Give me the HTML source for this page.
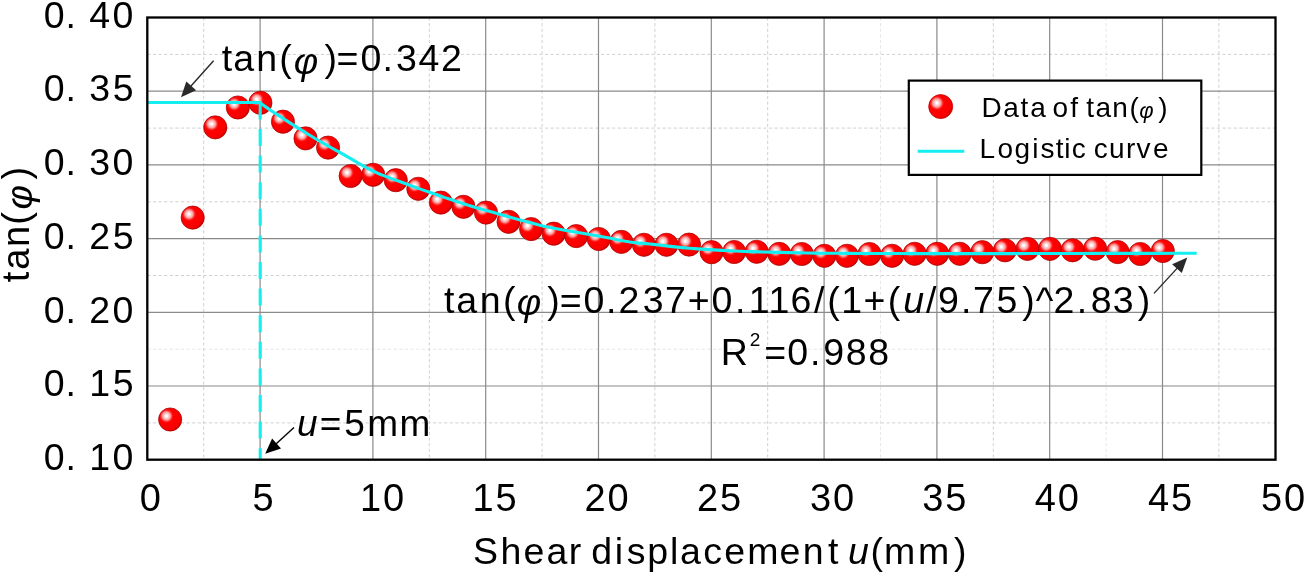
<!DOCTYPE html>
<html><head><meta charset="utf-8"><style>html,body{margin:0;padding:0;background:#fff;}svg{display:block;will-change:transform;}</style></head>
<body><svg width="1306" height="574" viewBox="0 0 1306 574">
<rect x="0" y="0" width="1306" height="574" fill="#fff"/>
<path d="M880.5,17.5V459.7M1106.1,17.5V459.7M147.3,349.2H1275.5" stroke="#e6e6e6" stroke-width="1" stroke-dasharray="3.2 2.4" fill="none"/>
<path d="M203.7,17.5V459.7M429.3,17.5V459.7M542.1,17.5V459.7M654.9,17.5V459.7M767.7,17.5V459.7M993.3,17.5V459.7M1218.9,17.5V459.7M147.3,54.4H1275.5M147.3,128.1H1275.5M147.3,201.8H1275.5M147.3,275.5H1275.5M147.3,422.9H1275.5" stroke="#d0d0d0" stroke-width="1" stroke-dasharray="3.2 2.4" fill="none"/>
<path d="M260.1,17.5V459.7M372.9,17.5V459.7M485.7,17.5V459.7M598.5,17.5V459.7M711.3,17.5V459.7M824.1,17.5V459.7M936.9,17.5V459.7M1049.7,17.5V459.7M1162.5,17.5V459.7M147.3,91.2H1275.5M147.3,164.9H1275.5M147.3,238.6H1275.5M147.3,312.3H1275.5M147.3,386.0H1275.5" stroke="#8a8a8a" stroke-width="1.2" fill="none"/>
<defs><radialGradient id="sp" cx="0.34" cy="0.35" r="0.68" fx="0.34" fy="0.35"><stop offset="0" stop-color="#ffffff"/><stop offset="0.06" stop-color="#ffffff"/><stop offset="0.12" stop-color="#ffdada"/><stop offset="0.25" stop-color="#ffa0a0"/><stop offset="0.3" stop-color="#ff6a6a"/><stop offset="0.37" stop-color="#ff2020"/><stop offset="0.45" stop-color="#ff0000"/><stop offset="0.88" stop-color="#f80000"/><stop offset="1" stop-color="#d80000"/></radialGradient></defs>
<circle cx="170.16" cy="419.5" r="11.6" fill="url(#sp)" stroke="#a80000" stroke-width="0.9" stroke-opacity="0.8"/>
<circle cx="192.72" cy="217.6" r="11.6" fill="url(#sp)" stroke="#a80000" stroke-width="0.9" stroke-opacity="0.8"/>
<circle cx="215.28" cy="127.4" r="11.6" fill="url(#sp)" stroke="#a80000" stroke-width="0.9" stroke-opacity="0.8"/>
<circle cx="237.84" cy="107.5" r="11.6" fill="url(#sp)" stroke="#a80000" stroke-width="0.9" stroke-opacity="0.8"/>
<circle cx="260.40" cy="102.8" r="11.6" fill="url(#sp)" stroke="#a80000" stroke-width="0.9" stroke-opacity="0.8"/>
<circle cx="282.96" cy="121.7" r="11.6" fill="url(#sp)" stroke="#a80000" stroke-width="0.9" stroke-opacity="0.8"/>
<circle cx="305.52" cy="138.4" r="11.6" fill="url(#sp)" stroke="#a80000" stroke-width="0.9" stroke-opacity="0.8"/>
<circle cx="328.08" cy="147.6" r="11.6" fill="url(#sp)" stroke="#a80000" stroke-width="0.9" stroke-opacity="0.8"/>
<circle cx="350.64" cy="176.0" r="11.6" fill="url(#sp)" stroke="#a80000" stroke-width="0.9" stroke-opacity="0.8"/>
<circle cx="373.20" cy="174.8" r="11.6" fill="url(#sp)" stroke="#a80000" stroke-width="0.9" stroke-opacity="0.8"/>
<circle cx="395.76" cy="180.2" r="11.6" fill="url(#sp)" stroke="#a80000" stroke-width="0.9" stroke-opacity="0.8"/>
<circle cx="418.32" cy="188.8" r="11.6" fill="url(#sp)" stroke="#a80000" stroke-width="0.9" stroke-opacity="0.8"/>
<circle cx="440.88" cy="202.6" r="11.6" fill="url(#sp)" stroke="#a80000" stroke-width="0.9" stroke-opacity="0.8"/>
<circle cx="463.44" cy="206.8" r="11.6" fill="url(#sp)" stroke="#a80000" stroke-width="0.9" stroke-opacity="0.8"/>
<circle cx="486.00" cy="212.6" r="11.6" fill="url(#sp)" stroke="#a80000" stroke-width="0.9" stroke-opacity="0.8"/>
<circle cx="508.56" cy="221.8" r="11.6" fill="url(#sp)" stroke="#a80000" stroke-width="0.9" stroke-opacity="0.8"/>
<circle cx="531.12" cy="229.1" r="11.6" fill="url(#sp)" stroke="#a80000" stroke-width="0.9" stroke-opacity="0.8"/>
<circle cx="553.68" cy="233.7" r="11.6" fill="url(#sp)" stroke="#a80000" stroke-width="0.9" stroke-opacity="0.8"/>
<circle cx="576.24" cy="236.1" r="11.6" fill="url(#sp)" stroke="#a80000" stroke-width="0.9" stroke-opacity="0.8"/>
<circle cx="598.80" cy="239.0" r="11.6" fill="url(#sp)" stroke="#a80000" stroke-width="0.9" stroke-opacity="0.8"/>
<circle cx="621.36" cy="241.9" r="11.6" fill="url(#sp)" stroke="#a80000" stroke-width="0.9" stroke-opacity="0.8"/>
<circle cx="643.92" cy="244.8" r="11.6" fill="url(#sp)" stroke="#a80000" stroke-width="0.9" stroke-opacity="0.8"/>
<circle cx="666.48" cy="244.8" r="11.6" fill="url(#sp)" stroke="#a80000" stroke-width="0.9" stroke-opacity="0.8"/>
<circle cx="689.04" cy="244.6" r="11.6" fill="url(#sp)" stroke="#a80000" stroke-width="0.9" stroke-opacity="0.8"/>
<circle cx="711.60" cy="252.2" r="11.6" fill="url(#sp)" stroke="#a80000" stroke-width="0.9" stroke-opacity="0.8"/>
<circle cx="734.16" cy="252.0" r="11.6" fill="url(#sp)" stroke="#a80000" stroke-width="0.9" stroke-opacity="0.8"/>
<circle cx="756.72" cy="251.8" r="11.6" fill="url(#sp)" stroke="#a80000" stroke-width="0.9" stroke-opacity="0.8"/>
<circle cx="779.28" cy="253.9" r="11.6" fill="url(#sp)" stroke="#a80000" stroke-width="0.9" stroke-opacity="0.8"/>
<circle cx="801.84" cy="254.0" r="11.6" fill="url(#sp)" stroke="#a80000" stroke-width="0.9" stroke-opacity="0.8"/>
<circle cx="824.40" cy="255.8" r="11.6" fill="url(#sp)" stroke="#a80000" stroke-width="0.9" stroke-opacity="0.8"/>
<circle cx="846.96" cy="255.8" r="11.6" fill="url(#sp)" stroke="#a80000" stroke-width="0.9" stroke-opacity="0.8"/>
<circle cx="869.52" cy="254.0" r="11.6" fill="url(#sp)" stroke="#a80000" stroke-width="0.9" stroke-opacity="0.8"/>
<circle cx="892.08" cy="255.8" r="11.6" fill="url(#sp)" stroke="#a80000" stroke-width="0.9" stroke-opacity="0.8"/>
<circle cx="914.64" cy="253.8" r="11.6" fill="url(#sp)" stroke="#a80000" stroke-width="0.9" stroke-opacity="0.8"/>
<circle cx="937.20" cy="253.8" r="11.6" fill="url(#sp)" stroke="#a80000" stroke-width="0.9" stroke-opacity="0.8"/>
<circle cx="959.76" cy="253.8" r="11.6" fill="url(#sp)" stroke="#a80000" stroke-width="0.9" stroke-opacity="0.8"/>
<circle cx="982.32" cy="252.2" r="11.6" fill="url(#sp)" stroke="#a80000" stroke-width="0.9" stroke-opacity="0.8"/>
<circle cx="1004.88" cy="250.3" r="11.6" fill="url(#sp)" stroke="#a80000" stroke-width="0.9" stroke-opacity="0.8"/>
<circle cx="1027.44" cy="248.9" r="11.6" fill="url(#sp)" stroke="#a80000" stroke-width="0.9" stroke-opacity="0.8"/>
<circle cx="1050.00" cy="248.9" r="11.6" fill="url(#sp)" stroke="#a80000" stroke-width="0.9" stroke-opacity="0.8"/>
<circle cx="1072.56" cy="250.3" r="11.6" fill="url(#sp)" stroke="#a80000" stroke-width="0.9" stroke-opacity="0.8"/>
<circle cx="1095.12" cy="248.7" r="11.6" fill="url(#sp)" stroke="#a80000" stroke-width="0.9" stroke-opacity="0.8"/>
<circle cx="1117.68" cy="252.1" r="11.6" fill="url(#sp)" stroke="#a80000" stroke-width="0.9" stroke-opacity="0.8"/>
<circle cx="1140.24" cy="254.0" r="11.6" fill="url(#sp)" stroke="#a80000" stroke-width="0.9" stroke-opacity="0.8"/>
<circle cx="1162.80" cy="251.0" r="11.6" fill="url(#sp)" stroke="#a80000" stroke-width="0.9" stroke-opacity="0.8"/>
<path d="M147.3,102.5 L260.2,102.5 L260.5,102.8 L260.8,103.1 L261.3,103.6 L262.0,104.2 L263.2,105.1 L265.0,106.4 L267.5,108.1 L270.5,110.2 L274.0,112.5 L277.9,115.1 L282.1,117.8 L286.4,120.6 L291.1,123.6 L296.3,126.9 L301.8,130.3 L307.3,133.7 L312.7,137.0 L317.7,140.0 L322.3,142.7 L326.7,145.2 L330.9,147.5 L335.1,149.8 L339.3,152.1 L343.8,154.6 L348.5,157.3 L353.3,160.1 L358.2,163.0 L363.2,165.9 L368.1,168.6 L372.9,171.0 L377.6,173.2 L382.3,175.1 L387.0,176.9 L391.6,178.6 L396.3,180.3 L401.0,182.0 L405.7,183.8 L410.4,185.5 L415.2,187.2 L419.9,188.9 L424.7,190.6 L429.6,192.3 L434.6,194.0 L439.8,195.8 L444.9,197.6 L450.1,199.3 L455.1,201.0 L460.0,202.6 L464.4,204.0 L468.4,205.3 L472.3,206.4 L476.4,207.7 L481.0,209.0 L486.3,210.5 L492.9,212.3 L500.5,214.5 L508.5,216.7 L516.5,218.9 L523.9,220.9 L530.0,222.5 L534.4,223.7 L537.4,224.6 L539.7,225.2 L542.1,225.8 L545.3,226.5 L550.0,227.5 L556.6,228.7 L564.7,230.2 L573.5,231.7 L582.5,233.2 L591.1,234.7 L598.5,236.0 L604.9,237.2 L610.7,238.3 L616.0,239.4 L621.0,240.4 L625.6,241.3 L630.0,242.0 L633.8,242.5 L636.8,242.9 L639.5,243.1 L642.3,243.3 L645.7,243.6 L650.0,244.0 L655.4,244.6 L661.4,245.3 L668.0,246.1 L675.0,246.9 L682.2,247.6 L689.7,248.3 L697.4,248.9 L705.3,249.4 L713.6,249.9 L722.1,250.4 L730.9,250.8 L740.0,251.2 L749.6,251.6 L759.7,251.9 L770.0,252.1 L780.4,252.4 L790.5,252.6 L800.0,252.8 L808.3,253.0 L815.6,253.1 L822.5,253.2 L830.0,253.3 L838.9,253.3 L850.0,253.4 L863.8,253.5 L879.6,253.5 L896.9,253.5 L914.8,253.6 L932.8,253.6 L950.0,253.6 L966.1,253.6 L981.6,253.6 L997.1,253.6 L1013.2,253.6 L1030.6,253.5 L1050.0,253.5 L1073.4,253.5 L1100.9,253.4 L1129.6,253.4 L1156.9,253.4 L1180.2,253.3 L1196.7,253.3" stroke="#14eef0" stroke-width="3.1" fill="none" stroke-linejoin="round"/>
<path d="M260.2,102.4V459" stroke="#14eef0" stroke-width="3.1" stroke-dasharray="17 9.6" fill="none"/>
<rect x="147.3" y="17.5" width="1128.2" height="442.2" fill="none" stroke="#000" stroke-width="2.3"/>
<text y="27.7" font-size="37.5" font-family="Liberation Sans, sans-serif" ><tspan x="43.74" y="27.70">0</tspan><tspan x="65.58" y="27.70">.</tspan><tspan x="89.30" y="27.70">4</tspan><tspan x="112.61" y="27.70">0</tspan></text>
<text y="101.4" font-size="37.5" font-family="Liberation Sans, sans-serif" ><tspan x="43.74" y="101.40">0</tspan><tspan x="65.58" y="101.40">.</tspan><tspan x="89.30" y="101.40">3</tspan><tspan x="112.72" y="101.40">5</tspan></text>
<text y="175.1" font-size="37.5" font-family="Liberation Sans, sans-serif" ><tspan x="43.74" y="175.10">0</tspan><tspan x="65.58" y="175.10">.</tspan><tspan x="89.30" y="175.10">3</tspan><tspan x="112.61" y="175.10">0</tspan></text>
<text y="248.8" font-size="37.5" font-family="Liberation Sans, sans-serif" ><tspan x="43.74" y="248.80">0</tspan><tspan x="65.58" y="248.80">.</tspan><tspan x="89.30" y="248.80">2</tspan><tspan x="112.72" y="248.80">5</tspan></text>
<text y="322.5" font-size="37.5" font-family="Liberation Sans, sans-serif" ><tspan x="43.74" y="322.50">0</tspan><tspan x="65.58" y="322.50">.</tspan><tspan x="89.30" y="322.50">2</tspan><tspan x="112.61" y="322.50">0</tspan></text>
<text y="396.2" font-size="37.5" font-family="Liberation Sans, sans-serif" ><tspan x="43.74" y="396.20">0</tspan><tspan x="65.58" y="396.20">.</tspan><tspan x="89.30" y="396.20">1</tspan><tspan x="112.72" y="396.20">5</tspan></text>
<text y="469.9" font-size="37.5" font-family="Liberation Sans, sans-serif" ><tspan x="43.74" y="469.90">0</tspan><tspan x="65.58" y="469.90">.</tspan><tspan x="89.30" y="469.90">1</tspan><tspan x="112.61" y="469.90">0</tspan></text>
<text y="510.8" font-size="38" font-family="Liberation Sans, sans-serif" ><tspan x="139.82" y="510.80">0</tspan></text>
<text y="510.8" font-size="38" font-family="Liberation Sans, sans-serif" ><tspan x="252.48" y="510.80">5</tspan></text>
<text y="510.8" font-size="38" font-family="Liberation Sans, sans-serif" ><tspan x="360.11" y="510.80">1</tspan><tspan x="383.11" y="510.80">0</tspan></text>
<text y="510.8" font-size="38" font-family="Liberation Sans, sans-serif" ><tspan x="472.51" y="510.80">1</tspan><tspan x="495.51" y="510.80">5</tspan></text>
<text y="510.8" font-size="38" font-family="Liberation Sans, sans-serif" ><tspan x="584.39" y="510.80">2</tspan><tspan x="607.39" y="510.80">0</tspan></text>
<text y="510.8" font-size="38" font-family="Liberation Sans, sans-serif" ><tspan x="696.89" y="510.80">2</tspan><tspan x="719.89" y="510.80">5</tspan></text>
<text y="510.8" font-size="38" font-family="Liberation Sans, sans-serif" ><tspan x="809.95" y="510.80">3</tspan><tspan x="832.95" y="510.80">0</tspan></text>
<text y="510.8" font-size="38" font-family="Liberation Sans, sans-serif" ><tspan x="922.25" y="510.80">3</tspan><tspan x="945.25" y="510.80">5</tspan></text>
<text y="510.8" font-size="38" font-family="Liberation Sans, sans-serif" ><tspan x="1034.63" y="510.80">4</tspan><tspan x="1057.63" y="510.80">0</tspan></text>
<text y="510.8" font-size="38" font-family="Liberation Sans, sans-serif" ><tspan x="1148.03" y="510.80">4</tspan><tspan x="1171.03" y="510.80">5</tspan></text>
<text y="510.8" font-size="38" font-family="Liberation Sans, sans-serif" ><tspan x="1260.98" y="510.80">5</tspan><tspan x="1283.98" y="510.80">0</tspan></text>
<text y="563.8" font-size="37.5" font-family="Liberation Sans, sans-serif" ><tspan x="472.95" y="563.80">S</tspan><tspan x="500.50" y="563.80">h</tspan><tspan x="523.61" y="563.80">e</tspan><tspan x="546.61" y="563.80">a</tspan><tspan x="568.71" y="563.80">r</tspan><tspan x="591.33" y="563.80">d</tspan><tspan x="614.79" y="563.80">i</tspan><tspan x="626.66" y="563.80">s</tspan><tspan x="647.18" y="563.80">p</tspan><tspan x="669.97" y="563.80">l</tspan><tspan x="679.91" y="563.80">a</tspan><tspan x="703.31" y="563.80">c</tspan><tspan x="724.21" y="563.80">e</tspan><tspan x="747.21" y="563.80">m</tspan><tspan x="779.51" y="563.80">e</tspan><tspan x="802.71" y="563.80">n</tspan><tspan x="828.03" y="563.80">t</tspan><tspan x="847.93" font-family="Liberation Sans" font-style="italic" y="563.80">u</tspan><tspan x="870.57" y="563.80">(</tspan><tspan x="884.11" y="563.80">m</tspan><tspan x="917.91" y="563.80">m</tspan><tspan x="954.08" y="563.80">)</tspan></text>
<g transform="translate(29.3,282.0) rotate(-90)"><text y="0.0" font-size="38" font-family="Liberation Sans, sans-serif" ><tspan x="-0.18" y="0.00">t</tspan><tspan x="12.19" y="0.00">a</tspan><tspan x="35.08" y="0.00">n</tspan><tspan x="57.34" y="0.00">(</tspan><tspan x="72.50" font-family="Liberation Sans" font-style="italic" font-size="37.5" y="2.50">φ</tspan><tspan x="102.58" y="0.00">)</tspan></text></g>
<text y="71.0" font-size="37.5" font-family="Liberation Sans, sans-serif" ><tspan x="221.83" y="71.00">t</tspan><tspan x="233.21" y="71.00">a</tspan><tspan x="256.21" y="71.00">n</tspan><tspan x="279.27" y="71.00">(</tspan><tspan x="293.70" font-family="Liberation Sans" font-style="italic" y="73.50">φ</tspan><tspan x="324.58" y="71.00">)</tspan><tspan x="336.57" y="71.00">=</tspan><tspan x="360.44" y="71.00">0</tspan><tspan x="382.58" y="71.00">.</tspan><tspan x="396.07" y="71.00">3</tspan><tspan x="418.44" y="71.00">4</tspan><tspan x="441.01" y="71.00">2</tspan></text>
<text y="436.0" font-size="37" font-family="Liberation Sans, sans-serif" ><tspan x="297.05" font-family="Liberation Sans" font-style="italic" y="436.00">u</tspan><tspan x="319.79" y="436.00">=</tspan><tspan x="344.22" y="436.00">5</tspan><tspan x="367.34" y="436.00">m</tspan><tspan x="399.54" y="436.00">m</tspan></text>
<text y="312.5" font-size="37.5" font-family="Liberation Sans, sans-serif" ><tspan x="444.03" y="312.50">t</tspan><tspan x="456.31" y="312.50">a</tspan><tspan x="479.81" y="312.50">n</tspan><tspan x="502.97" y="312.50">(</tspan><tspan x="516.80" font-family="Liberation Sans" font-style="italic" y="315.00">φ</tspan><tspan x="547.28" y="312.50">)</tspan><tspan x="559.67" y="312.50">=</tspan><tspan x="583.44" y="312.50">0</tspan><tspan x="605.88" y="312.50">.</tspan><tspan x="618.41" y="312.50">2</tspan><tspan x="642.77" y="312.50">3</tspan><tspan x="664.88" y="312.50">7</tspan><tspan x="687.77" y="312.50">+</tspan><tspan x="711.54" y="312.50">0</tspan><tspan x="734.88" y="312.50">.</tspan><tspan x="748.74" y="312.50">1</tspan><tspan x="768.54" y="312.50">1</tspan><tspan x="790.60" y="312.50">6</tspan><tspan x="814.10" y="312.50">/</tspan><tspan x="827.17" y="312.50">(</tspan><tspan x="841.34" y="312.50">1</tspan><tspan x="863.57" y="312.50">+</tspan><tspan x="887.87" y="312.50">(</tspan><tspan x="903.33" font-family="Liberation Sans" font-style="italic" y="312.50">u</tspan><tspan x="926.00" y="312.50">/</tspan><tspan x="937.94" y="312.50">9</tspan><tspan x="961.08" y="312.50">.</tspan><tspan x="973.08" y="312.50">7</tspan><tspan x="996.50" y="312.50">5</tspan><tspan x="1022.18" y="312.50">)</tspan><tspan x="1035.82" y="312.50">^</tspan><tspan x="1053.41" y="312.50">2</tspan><tspan x="1076.68" y="312.50">.</tspan><tspan x="1090.87" y="312.50">8</tspan><tspan x="1112.67" y="312.50">3</tspan><tspan x="1137.78" y="312.50">)</tspan></text>
<text y="365.2" font-size="37.5" font-family="Liberation Sans, sans-serif" ><tspan x="720.72" y="365.20">R</tspan><tspan x="749.74" font-size="19" y="345.60">2</tspan><tspan x="764.17" y="365.20">=</tspan><tspan x="787.14" y="365.20">0</tspan><tspan x="809.88" y="365.20">.</tspan><tspan x="823.24" y="365.20">9</tspan><tspan x="845.87" y="365.20">8</tspan><tspan x="868.37" y="365.20">8</tspan></text>
<line x1="213.6" y1="60.7" x2="189.2" y2="88.0" stroke="#2a2a2a" stroke-width="1.4"/>
<path d="M181.0,97.2L186.3,81.4L196.1,90.2Z" fill="#2a2a2a"/>
<line x1="294.0" y1="427.6" x2="274.3" y2="445.5" stroke="#000" stroke-width="1.4"/>
<path d="M265.2,453.8L272.1,438.6L281.0,448.4Z" fill="#000"/>
<line x1="1154.0" y1="293.4" x2="1178.9" y2="266.4" stroke="#2a2a2a" stroke-width="1.4"/>
<path d="M1187.3,257.4L1181.8,273.1L1172.1,264.2Z" fill="#2a2a2a"/>
<rect x="908.8" y="80.6" width="292.5" height="94.3" fill="#fff" stroke="#000" stroke-width="2.2"/>
<circle cx="940.7" cy="106.6" r="12" fill="url(#sp)" stroke="#c80000" stroke-width="0.8"/>
<path d="M917.7,151.2H964.3" stroke="#14eef0" stroke-width="3.1"/>
<text y="117.2" font-size="28" font-family="Liberation Sans, sans-serif" ><tspan x="981.50" y="117.20">D</tspan><tspan x="1003.31" y="117.20">a</tspan><tspan x="1020.48" y="117.20">t</tspan><tspan x="1030.21" y="117.20">a</tspan><tspan x="1052.62" y="117.20">o</tspan><tspan x="1070.20" y="117.20">f</tspan><tspan x="1086.28" y="117.20">t</tspan><tspan x="1095.61" y="117.20">a</tspan><tspan x="1112.34" y="117.20">n</tspan><tspan x="1129.46" y="117.20">(</tspan><tspan x="1139.24" font-family="Liberation Sans" font-style="italic" font-size="22" y="118.20">φ</tspan><tspan x="1158.14" y="117.20">)</tspan></text>
<text y="158.2" font-size="28" font-family="Liberation Sans, sans-serif" ><tspan x="979.60" y="158.20">L</tspan><tspan x="997.52" y="158.20">o</tspan><tspan x="1014.42" y="158.20">g</tspan><tspan x="1032.13" y="158.20">i</tspan><tspan x="1040.42" y="158.20">s</tspan><tspan x="1055.78" y="158.20">t</tspan><tspan x="1064.33" y="158.20">i</tspan><tspan x="1071.81" y="158.20">c</tspan><tspan x="1093.71" y="158.20">c</tspan><tspan x="1109.08" y="158.20">u</tspan><tspan x="1125.94" y="158.20">r</tspan><tspan x="1136.50" y="158.20">v</tspan><tspan x="1153.11" y="158.20">e</tspan></text>
</svg></body></html>
